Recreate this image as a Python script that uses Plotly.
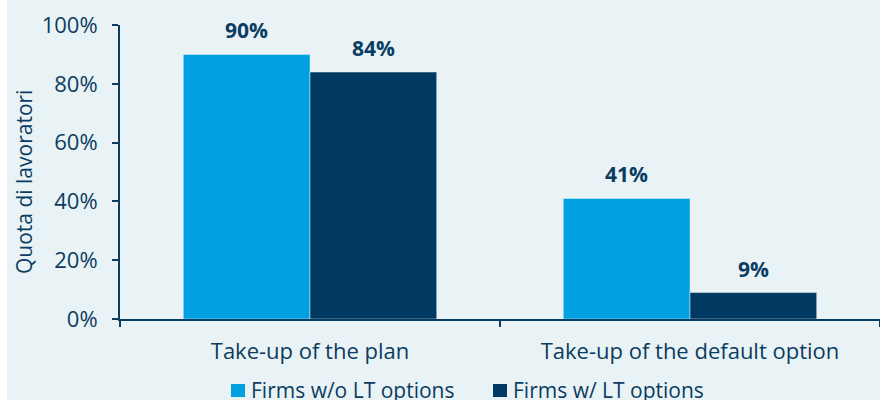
import plotly.graph_objects as go

categories = ["Take-up of the plan", "Take-up of the default option"]
series_names = ["Firms w/o LT options", "Firms w/ LT options"]
without_lt = [0.90, 0.41]
with_lt = [0.84, 0.09]
y_ticks = [0, 0.2, 0.4, 0.6, 0.8, 1.0]
y_tick_labels = ["0%", "20%", "40%", "60%", "80%", "100%"]
y_title = "Quota di lavoratori"

navy = "#0b3c61"
light_blue = "#00a0e1"
dark_blue = "#003a63"
bg = "#e9f3f6"
font_family = "Open Sans"

# plot area in pixels (used to place legend keys and the axis title)
W, H = 880, 400
L, R, T, B = 120, 0, 25, 81
PW, PH = W - L - R, H - T - B


def px(x):
    return (x - L) / PW


def py(y):
    return (H - B - y) / PH


bargap = 0.333
bar_w = (1 - bargap) / 2
series = [(series_names[0], without_lt, light_blue, -bar_w / 2),
          (series_names[1], with_lt, dark_blue, bar_w / 2)]

fig = go.Figure()
annotations = []
for name, vals, color, offset in series:
    fig.add_trace(go.Bar(
        x=categories, y=vals, name=name,
        marker=dict(color=color, line=dict(color=bg, width=0.5)),
        showlegend=False,
    ))
    for i, v in enumerate(vals):
        annotations.append(dict(
            x=i + offset, y=v, xref="x", yref="y",
            text=f"<b>{round(v * 100)}%</b>", showarrow=False,
            yanchor="middle", yshift=24,
            font=dict(family=font_family, size=21, color=navy),
        ))

# legend keys
legend_x = [231, 493]
shapes = [dict(type="rect", xref="paper", yref="paper",
               x0=px(-1), x1=px(7), y0=py(H + 1), y1=py(-1),
               fillcolor="white", line=dict(width=0), layer="below")]
for (name, vals, color, offset), lx in zip(series, legend_x):
    shapes.append(dict(type="rect", xref="paper", yref="paper",
                       x0=px(lx), x1=px(lx + 14), y0=py(397), y1=py(384),
                       fillcolor=color, line=dict(width=0)))
    annotations.append(dict(
        x=px(lx + 18), y=py(390), xref="paper", yref="paper",
        text=name, showarrow=False, xanchor="left", yanchor="middle",
        font=dict(family=font_family, size=21, color=navy),
    ))

annotations.append(dict(
    x=px(24), y=py(182), xref="paper", yref="paper",
    text=y_title, showarrow=False, textangle=-90,
    xanchor="center", yanchor="middle",
    font=dict(family=font_family, size=21, color=navy),
))

fig.update_layout(
    width=W, height=H,
    margin=dict(l=L, r=R, t=T, b=B, autoexpand=False),
    paper_bgcolor=bg, plot_bgcolor=bg,
    barmode="group", bargap=bargap, bargroupgap=0,
    font=dict(family=font_family, size=22, color=navy),
    showlegend=False,
    xaxis=dict(
        automargin=False,
        showline=True, linecolor=navy, linewidth=2,
        ticks="outside", tickson="boundaries", ticklen=6, tickcolor=navy, tickwidth=2,
        tickfont=dict(size=22, color=navy), showgrid=False, ticklabelstandoff=12,
    ),
    yaxis=dict(
        automargin=False,
        range=[0, 1], tickvals=y_ticks, ticktext=y_tick_labels,
        showline=True, linecolor=navy, linewidth=2,
        ticks="outside", ticklen=6, tickcolor=navy, tickwidth=2,
        tickfont=dict(size=22, color=navy), showgrid=False, zeroline=False,
        ticklabelstandoff=10,
    ),
    shapes=shapes,
    annotations=annotations,
)

fig.write_html("out.html")
